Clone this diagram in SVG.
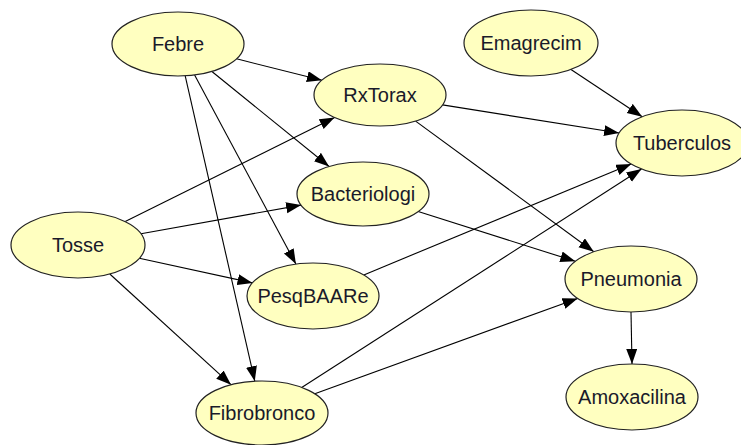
<svg xmlns="http://www.w3.org/2000/svg" width="741" height="445" viewBox="0 0 741 445">
<style>
.node ellipse{fill:#FFFFC0;stroke:#222;stroke-width:1.2}
.node text{font-family:"Liberation Sans",Arial,sans-serif;font-size:20px;fill:#1a1a2a;text-anchor:middle}
.edge line{stroke:#000;stroke-width:1.1;marker-end:url(#arr)}
</style>
<defs>
<marker id="arr" markerUnits="userSpaceOnUse" markerWidth="16" markerHeight="12" refX="15" refY="5.5" orient="auto">
<path d="M0,0 L15,5.5 L0,11 z" fill="#000"/>
</marker>
</defs>
<rect width="741" height="445" fill="#fff"/>
<g id="connectors" class="edge">
<line x1="236.5" y1="58.8" x2="321.9" y2="80.3"/>
<line x1="211.9" y1="71.5" x2="329.1" y2="166.5"/>
<line x1="194.6" y1="75.0" x2="295.9" y2="264.1"/>
<line x1="185.2" y1="75.8" x2="254.8" y2="381.2"/>
<line x1="125.2" y1="221.6" x2="334.6" y2="117.5"/>
<line x1="141" y1="233.7" x2="301.1" y2="205.1"/>
<line x1="139.3" y1="258.3" x2="252.5" y2="282.9"/>
<line x1="109.8" y1="274.0" x2="231.0" y2="384.7"/>
<line x1="571" y1="69.5" x2="642.2" y2="116.7"/>
<line x1="442.5" y1="104.9" x2="619.1" y2="133.0"/>
<line x1="415.6" y1="121.1" x2="593.8" y2="251.7"/>
<line x1="418.2" y1="211.5" x2="575.3" y2="261.3"/>
<line x1="363.8" y1="274.9" x2="631.2" y2="164.1"/>
<line x1="301.7" y1="387.5" x2="641.5" y2="169.0"/>
<line x1="314.8" y1="393.8" x2="577.6" y2="298.4"/>
<line x1="631" y1="312" x2="632" y2="364"/>
</g>
<g id="Febre" class="node"><ellipse cx="178" cy="44" rx="66" ry="32"/><text x="178" y="51">Febre</text></g>
<g id="RxTorax" class="node"><ellipse cx="380" cy="95" rx="66" ry="31"/><text x="380" y="102">RxTorax</text></g>
<g id="Emagrecim" class="node"><ellipse cx="531" cy="43" rx="67" ry="33"/><text x="531" y="50">Emagrecim</text></g>
<g id="Tuberculos" class="node"><ellipse cx="682" cy="143" rx="66" ry="33"/><text x="682" y="150">Tuberculos</text></g>
<g id="Bacteriologi" class="node"><ellipse cx="363" cy="194" rx="66" ry="32"/><text x="363" y="201">Bacteriologi</text></g>
<g id="Tosse" class="node"><ellipse cx="78" cy="245" rx="67" ry="33"/><text x="78" y="252">Tosse</text></g>
<g id="PesqBAARe" class="node"><ellipse cx="313" cy="296" rx="66" ry="33"/><text x="313" y="303">PesqBAARe</text></g>
<g id="Pneumonia" class="node"><ellipse cx="631" cy="279" rx="66" ry="33"/><text x="631" y="286">Pneumonia</text></g>
<g id="Amoxacilina" class="node"><ellipse cx="632" cy="397" rx="66" ry="33"/><text x="632" y="404">Amoxacilina</text></g>
<g id="Fibrobronco" class="node"><ellipse cx="262" cy="413" rx="66" ry="32"/><text x="262" y="420">Fibrobronco</text></g>
</svg>
